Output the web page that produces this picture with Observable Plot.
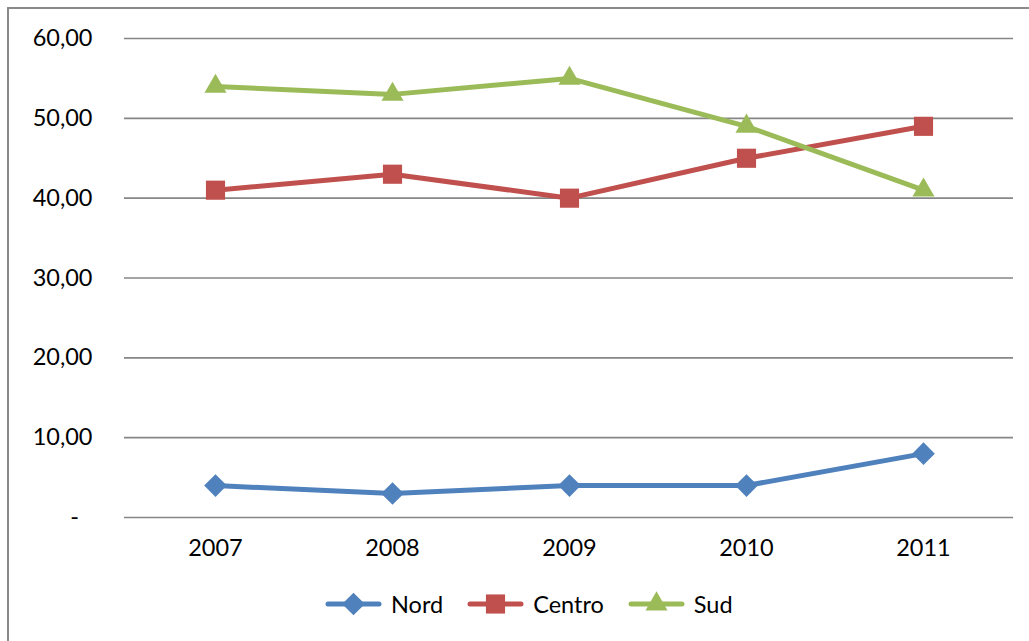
<!DOCTYPE html>
<html>
<head>
<meta charset="utf-8">
<script src="https://cdn.jsdelivr.net/npm/d3@7"></script>
<script src="https://cdn.jsdelivr.net/npm/@observablehq/plot@0.6"></script>
<style>
  html, body { margin: 0; padding: 0; background: #fff; overflow: hidden; }
  body { width: 1029px; height: 641px; position: relative; font-family: Lato, "Open Sans", sans-serif; }
  #frame { position: absolute; left: 7px; top: 7px; width: 1060px; height: 680px; border: 2px solid #8a8a8a; box-sizing: border-box; }
  #chart { position: absolute; left: 0; top: 0; }
  #legend { position: absolute; left: 325px; top: 590px; display: flex; align-items: center; font-size: 23.5px; color: #000; }
  .item { display: flex; align-items: center; margin-right: 24px; }
  .item svg { margin-right: 9px; }
</style>
</head>
<body>
<div id="frame"></div>
<div id="chart"></div>
<div id="legend"></div>
<script>
const years = ["2007", "2008", "2009", "2010", "2011"];
const nord = [4, 3, 4, 4, 8];
const centro = [41, 43, 40, 45, 49];
const sud = [54, 53, 55, 49, 41];
const yTicks = [0, 10, 20, 30, 40, 50, 60];

const seriesNames = ["Nord", "Centro", "Sud"];
const seriesValues = [nord, centro, sud];
const colors = {Nord: "#4F81BD", Centro: "#C0504D", Sud: "#9BBB59"};
const symbols = {Nord: "diamond2", Centro: "square", Sud: "triangle"};
const sizes = {Nord: 10.2, Centro: 10.8, Sud: 8.2};

const data = seriesNames.flatMap((s, i) => years.map((y, j) => ({series: s, year: y, value: seriesValues[i][j]})));

const fmt = v => v === 0 ? "-\u2007" : d3.format(".2f")(v).replace(".", ",");

const chart = Plot.plot({
  width: 1029,
  height: 567,
  marginLeft: 124,
  marginRight: 16,
  marginTop: 38,
  marginBottom: 50,
  style: {fontFamily: "Lato, 'Open Sans', sans-serif", fontSize: "23.5px", color: "#000", background: "transparent", overflow: "visible"},
  x: {type: "point", domain: years, padding: 0.5, label: null},
  y: {domain: [0, 60], label: null},
  marks: [
    Plot.ruleY(yTicks, {stroke: "#868686", strokeWidth: 1.6}),
    Plot.axisY({ticks: yTicks, tickSize: 0, tickPadding: 32, tickFormat: fmt, fontSize: 23.5}),
    Plot.axisX({tickSize: 0, tickPadding: 22, fontSize: 23.5}),
    ...seriesNames.map(s => Plot.line(data.filter(d => d.series === s), {x: "year", y: "value", stroke: colors[s], strokeWidth: 5, strokeLinejoin: "round"})),
    ...seriesNames.map(s => Plot.dot(data.filter(d => d.series === s), {x: "year", y: "value", symbol: symbols[s], fill: colors[s], r: sizes[s], stroke: "none"}))
  ]
});
document.getElementById("chart").appendChild(chart);

const legend = document.getElementById("legend");
seriesNames.forEach(s => {
  const item = document.createElement("div");
  item.className = "item";
  const sym = d3.symbol(s === "Nord" ? d3.symbolDiamond2 : s === "Centro" ? d3.symbolSquare : d3.symbolTriangle, Math.PI * sizes[s] * sizes[s])();
  item.innerHTML = `<svg width="57" height="26" viewBox="0 0 57 26"><line x1="3" y1="13" x2="54" y2="13" stroke="${colors[s]}" stroke-width="5" stroke-linecap="round"/><path d="${sym}" transform="translate(28.5,13)" fill="${colors[s]}"/></svg><span>${s}</span>`;
  legend.appendChild(item);
});
</script>
</body>
</html>
